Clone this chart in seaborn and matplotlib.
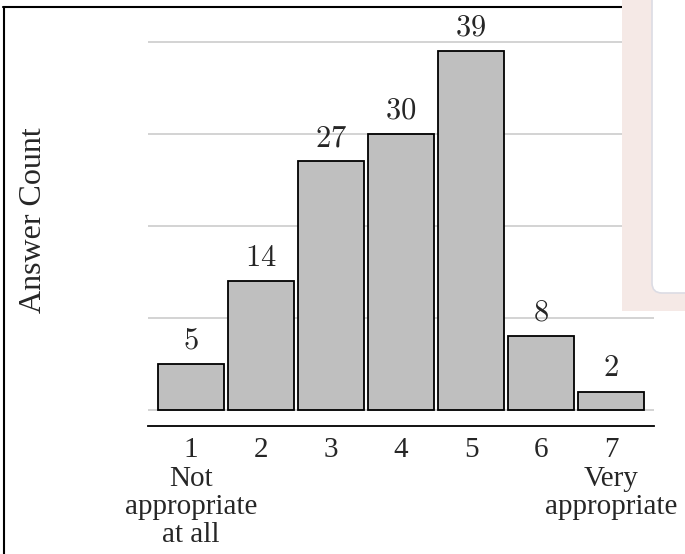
import numpy as np
import pandas as pd
import matplotlib
matplotlib.use('Agg')
import matplotlib.pyplot as plt
import seaborn as sns
from matplotlib.patches import Rectangle, FancyBboxPatch
from matplotlib.lines import Line2D
from matplotlib.transforms import IdentityTransform

# Dados
notas = ['1', '2', '3', '4', '5', '6', '7']
contagem = [5, 14, 27, 30, 39, 8, 2]
descricao = {0: 'Not\nappropriate\nat all', 6: 'Very\nappropriate'}
grade_y = [0, 10, 20, 30, 40]

sns.set_style('white')
plt.rcParams['font.family'] = ['Liberation Serif', 'DejaVu Serif']
plt.rcParams['mathtext.fontset'] = 'cm'

df = pd.DataFrame({'nota': notas, 'contagem': contagem})

fig = plt.figure(figsize=(6.85, 5.54), dpi=100)
ax = fig.add_axes([148/685, 1 - 426/554, (654 - 148)/685, (426 - 14)/554])

# linhas de grade
for g in grade_y:
    ax.axhline(g, color='#c8c8c8', lw=1.1, zorder=0)

sns.barplot(data=df, x='nota', y='contagem', color='#bfbfbf', saturation=1,
            edgecolor='black', linewidth=1.3, width=0.935, ax=ax, zorder=2)

ax.bar_label(ax.containers[0], labels=[f'${v}$' for v in contagem],
             padding=6, fontsize=22)

ax.set_xlim(-0.614, 6.614)
ax.set_ylim(-1.74, 43)
ax.set_yticks([])
ax.set_xticks(range(len(notas)))
ax.set_xticklabels(notas, fontsize=21)
ax.tick_params(axis='x', direction='in', length=11.5, width=1, color='#bbbbbb', pad=8)
ax.set_xlabel('')
ax.set_ylabel('')
for s in ['top', 'right', 'left']:
    ax.spines[s].set_visible(False)
ax.spines['bottom'].set_color('black')
ax.spines['bottom'].set_linewidth(1.3)

# descrição dos extremos da escala
for i, txt in descricao.items():
    ax.annotate(txt, xy=(i, 0), xycoords=('data', 'axes fraction'),
                xytext=(0, -28.5), textcoords='offset points',
                ha='center', va='top', fontsize=21, linespacing=1.1,
                annotation_clip=False)

fig.text(34/685, 1 - 220/554, 'Answer Count', rotation=90, va='center', ha='center', fontsize=23)

# moldura da captura
fig.add_artist(Line2D([3, 622], [547, 547], transform=IdentityTransform(), color='black', lw=1.5))
fig.add_artist(Line2D([3.5, 3.5], [547, 0], transform=IdentityTransform(), color='black', lw=1.5))

# painel rosa sobreposto
fig.add_artist(Rectangle((622, 554 - 311), 70, 320, transform=IdentityTransform(),
                         facecolor='#f5e9e6', edgecolor='none', zorder=10))
fig.add_artist(FancyBboxPatch((652, 554 - 293), 50, 320, boxstyle='round,pad=0,rounding_size=10',
                              transform=IdentityTransform(), facecolor='white',
                              edgecolor='#dcdce4', lw=1.2, zorder=11))

fig.savefig('out.png', dpi=100)
